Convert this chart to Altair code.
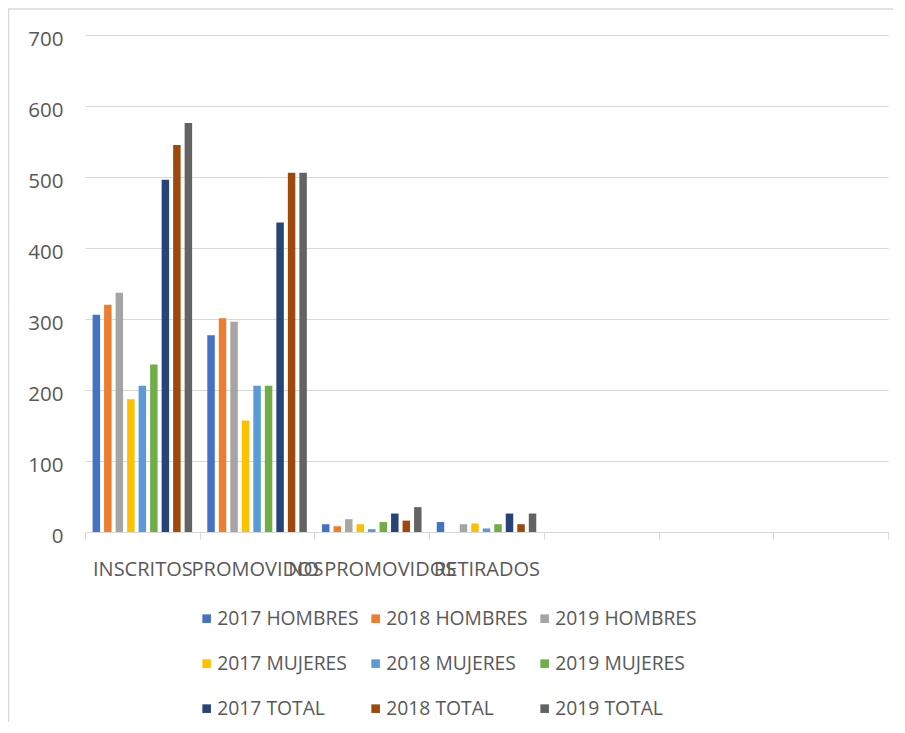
import altair as alt
import pandas as pd

categories = ["INSCRITOS", "PROMOVIDOS", "NO PROMOVIDOS", "RETIRADOS"]
empty_slots = [" ", "  ", "   "]

series = ["2017 HOMBRES", "2018 HOMBRES", "2019 HOMBRES",
          "2017 MUJERES", "2018 MUJERES", "2019 MUJERES",
          "2017 TOTAL", "2018 TOTAL", "2019 TOTAL"]
colors = ["#4472C4", "#ED7D31", "#A5A5A5",
          "#FFC000", "#5B9BD5", "#70AD47",
          "#264478", "#9E480E", "#636363"]

h2017 = [306, 277, 11, 14]
h2018 = [320, 301, 8, 0]
h2019 = [337, 296, 18, 11]
m2017 = [187, 157, 11, 12]
m2018 = [206, 206, 4, 5]
m2019 = [236, 206, 14, 11]
t2017 = [496, 436, 26, 26]
t2018 = [545, 506, 16, 11]
t2019 = [576, 506, 35, 26]

values = [h2017, h2018, h2019, m2017, m2018, m2019, t2017, t2018, t2019]
y_ticks = [0, 100, 200, 300, 400, 500, 600, 700]

rows = []
for s, vals in zip(series, values):
    for c, v in zip(categories, vals):
        rows.append({"cat": c, "serie": s, "valor": v})
df = pd.DataFrame(rows)

W, H = 803, 497
FONT = "Open Sans"
TXT = "#595959"
GRID = "#D9D9D9"

bars = alt.Chart(df).mark_bar().encode(
    x=alt.X("cat:N", sort=None,
            scale=alt.Scale(domain=categories + empty_slots, paddingInner=0, paddingOuter=0),
            axis=alt.Axis(title=None, labelAngle=0, tickBand="extent", tickSize=7,
                          tickColor=GRID, domainColor=GRID, labelColor=TXT,
                          labelFont=FONT, labelFontSize=20, labelPadding=20,
                          labelOverlap=False, labelLimit=300, grid=False)),
    xOffset=alt.XOffset("serie:N", sort=series,
                        scale=alt.Scale(domain=series, paddingInner=0.35, paddingOuter=0.66)),
    y=alt.Y("valor:Q",
            scale=alt.Scale(domain=[0, 700], nice=False, zero=True),
            axis=alt.Axis(title=None, values=y_ticks, grid=True, gridColor=GRID,
                          domain=False, ticks=False, tickSize=0, labelPadding=22,
                          labelOffset=4.5, labelColor=TXT, labelFont=FONT,
                          labelFontSize=20.5)),
    color=alt.Color("serie:N", sort=series,
                    scale=alt.Scale(domain=series, range=colors),
                    legend=alt.Legend(title=None, orient="none", legendX=112, legendY=574,
                                      direction="horizontal", columns=3,
                                      symbolType="square", symbolSize=74,
                                      symbolStrokeWidth=0, labelFont=FONT,
                                      labelFontSize=19.3, labelColor=TXT,
                                      labelOffset=1, columnPadding=7,
                                      rowPadding=25)),
)

border_left = alt.Chart(pd.DataFrame({"k": [0]})).mark_rule(color=GRID, strokeWidth=1.5).encode(
    x=alt.value(-76.5), y=alt.value(-26), y2=alt.value(H + 200)
)
border_top = alt.Chart(pd.DataFrame({"k": [0]})).mark_rule(color=GRID, strokeWidth=1.5).encode(
    x=alt.value(-77), x2=alt.value(W + 20), y=alt.value(-26)
)

chart = alt.layer(bars, border_left, border_top).properties(
    width=W, height=H,
    autosize=alt.AutoSizeParams(type="none"),
    padding={"left": 77, "top": 27, "right": 5, "bottom": 190},
    background="white",
).configure_view(stroke=None)

chart.save("out.html", embed_options={"renderer": "svg", "actions": False})
